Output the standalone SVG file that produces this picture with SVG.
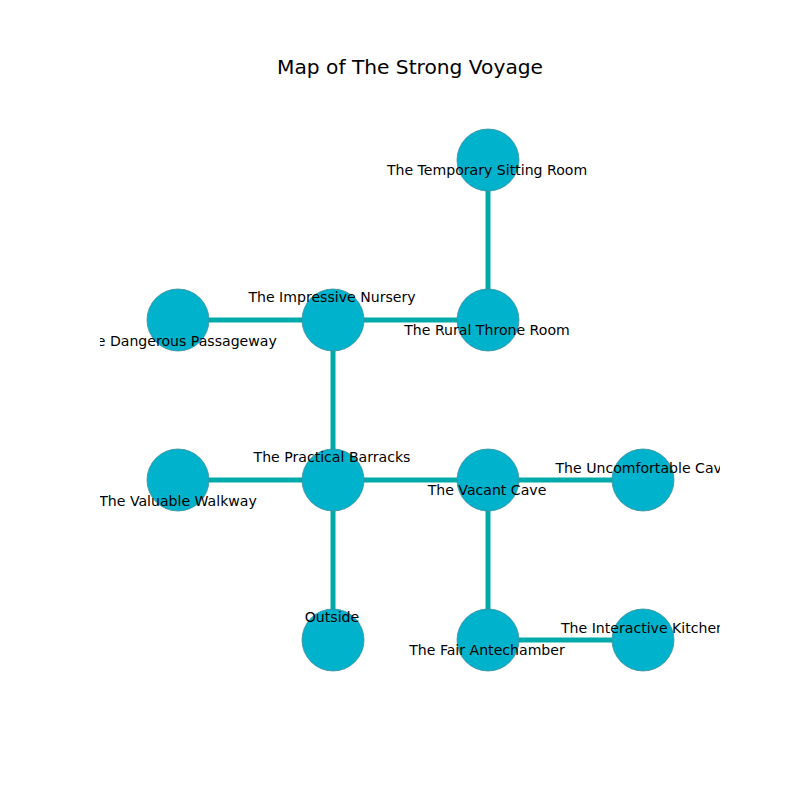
<svg xmlns="http://www.w3.org/2000/svg" width="800" height="800" viewBox="0 0 800 800">
  <style>
    .edge { stroke: #00a9aa; stroke-width: 5; fill: none; }
    .node circle { fill: #00b2cb; stroke: #3f8f9c; stroke-width: 0.8; }
    .lbl { font-family: "DejaVu Sans", sans-serif; font-size: 14.1px; fill: #000; text-anchor: middle; dominant-baseline: central; }
    .title { font-family: "DejaVu Sans", sans-serif; font-size: 20.2px; fill: #000; text-anchor: middle; dominant-baseline: central; }
  </style>
  <defs>
    <clipPath id="axes">
      <rect x="100" y="96" width="620" height="616"/>
    </clipPath>
  </defs>
  <rect width="800" height="800" fill="#ffffff"/>
  <text class="title" x="410" y="67">Map of The Strong Voyage</text>
  <g clip-path="url(#axes)">
    <g id="connectors">
      <line class="edge" x1="488" y1="160" x2="488" y2="320"/>
      <line class="edge" x1="178" y1="320" x2="488" y2="320"/>
      <line class="edge" x1="333" y1="320" x2="333" y2="640"/>
      <line class="edge" x1="178" y1="480" x2="643" y2="480"/>
      <line class="edge" x1="488" y1="480" x2="488" y2="640"/>
      <line class="edge" x1="488" y1="640" x2="643" y2="640"/>
    </g>
    <g id="node-temporary-sitting-room" class="node"><circle cx="488" cy="160" r="31"/></g>
    <g id="node-dangerous-passageway" class="node"><circle cx="178" cy="320" r="31"/></g>
    <g id="node-impressive-nursery" class="node"><circle cx="333" cy="320" r="31"/></g>
    <g id="node-rural-throne-room" class="node"><circle cx="488" cy="320" r="31"/></g>
    <g id="node-valuable-walkway" class="node"><circle cx="178" cy="480" r="31"/></g>
    <g id="node-practical-barracks" class="node"><circle cx="333" cy="480" r="31"/></g>
    <g id="node-vacant-cave" class="node"><circle cx="488" cy="480" r="31"/></g>
    <g id="node-uncomfortable-cave" class="node"><circle cx="643" cy="480" r="31"/></g>
    <g id="node-outside" class="node"><circle cx="333" cy="640" r="31"/></g>
    <g id="node-fair-antechamber" class="node"><circle cx="488" cy="640" r="31"/></g>
    <g id="node-interactive-kitchen" class="node"><circle cx="643" cy="640" r="31"/></g>
    <g id="labels">
      <text class="lbl" x="487" y="170">The Temporary Sitting Room</text>
      <text class="lbl" x="178" y="341">The Dangerous Passageway</text>
      <text class="lbl" x="332" y="297">The Impressive Nursery</text>
      <text class="lbl" x="487" y="330">The Rural Throne Room</text>
      <text class="lbl" x="178" y="501">The Valuable Walkway</text>
      <text class="lbl" x="332" y="457">The Practical Barracks</text>
      <text class="lbl" x="487" y="490">The Vacant Cave</text>
      <text class="lbl" x="643" y="468">The Uncomfortable Cave</text>
      <text class="lbl" x="332" y="617">Outside</text>
      <text class="lbl" x="487" y="650">The Fair Antechamber</text>
      <text class="lbl" x="643" y="628">The Interactive Kitchen</text>
    </g>
  </g>
</svg>
